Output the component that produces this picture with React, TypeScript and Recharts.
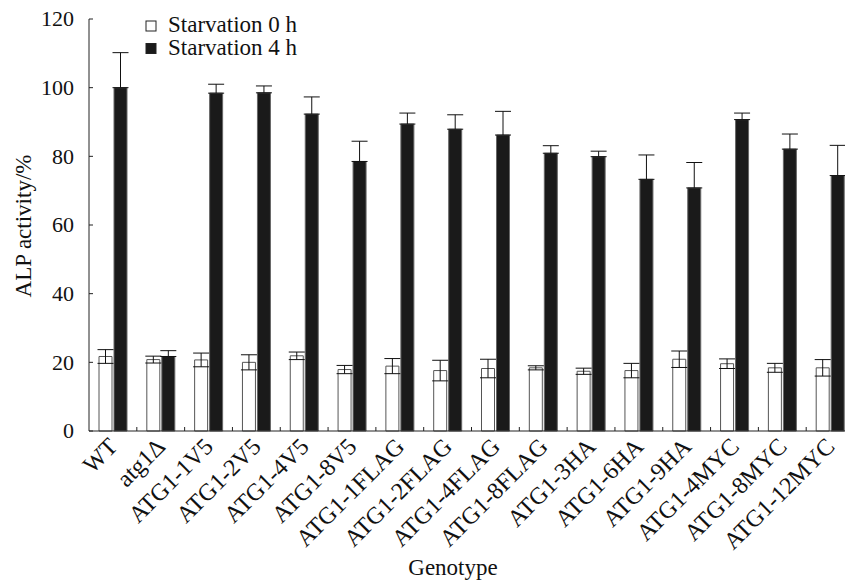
import React from 'react';
import { BarChart, Bar, XAxis, YAxis, ErrorBar } from 'recharts';

const genotypes = [
  'WT', 'atg1Δ', 'ATG1-1V5', 'ATG1-2V5', 'ATG1-4V5', 'ATG1-8V5',
  'ATG1-1FLAG', 'ATG1-2FLAG', 'ATG1-4FLAG', 'ATG1-8FLAG',
  'ATG1-3HA', 'ATG1-6HA', 'ATG1-9HA', 'ATG1-4MYC', 'ATG1-8MYC', 'ATG1-12MYC',
];
// Starvation 0 h
const starv0 = [21.7, 20.8, 20.7, 20.0, 21.9, 17.9, 18.9, 17.6, 18.2, 18.4, 17.4, 17.6, 20.9, 19.6, 18.4, 18.4];
const starv0Err = [2.0, 1.0, 2.0, 2.2, 1.1, 1.2, 2.2, 3.0, 2.7, 0.6, 0.9, 2.1, 2.4, 1.4, 1.3, 2.4];
// Starvation 4 h (only the upper whisker shows above the black bar)
const starv4 = [100.0, 21.7, 98.4, 98.5, 92.3, 78.5, 89.4, 87.9, 86.2, 80.9, 79.9, 73.3, 70.8, 90.7, 82.1, 74.4];
const starv4Err = [10.2, 1.7, 2.6, 2.0, 5.0, 5.9, 3.2, 4.2, 6.9, 2.2, 1.6, 7.1, 7.4, 1.9, 4.4, 8.8];
const yTicks = [0, 20, 40, 60, 80, 100, 120];

const data = genotypes.map((g, i) => ({
  name: g,
  s0: starv0[i],
  e0: starv0Err[i],
  s4: starv4[i],
  e4: [0, starv4Err[i]],
}));

const FONT = '"Liberation Serif", "Times New Roman", serif';
const AXIS = '#222';
const CHART_W = 880;
const MARGIN = { top: 19, right: 26, bottom: 29, left: 29 };
const PLOT_W = CHART_W - MARGIN.left - MARGIN.right - 60;
const CAT_W = PLOT_W / genotypes.length;

function XTick(props: any) {
  const { x, y, payload, index } = props;
  const tx = x + 6;
  const ty = y + 17;
  return (
    <g>
      {index < genotypes.length - 1 && (
        <line x1={x + CAT_W / 2} x2={x + CAT_W / 2} y1={y} y2={y - 4} stroke={AXIS} strokeWidth={1} />
      )}
      <text
        x={tx}
        y={ty}
        transform={`rotate(-45 ${tx} ${ty})`}
        textAnchor="end"
        fontFamily={FONT}
        fontSize={24}
        fill="#111"
      >
        {payload.value}
      </text>
    </g>
  );
}

function YTick(props: any) {
  const { x, y, payload } = props;
  return (
    <g>
      <line x1={x} x2={x + 4} y1={y} y2={y} stroke={AXIS} strokeWidth={1} />
      <text x={x - 15} y={y} dy="0.34em" textAnchor="end" fontFamily={FONT} fontSize={22} fill="#111">
        {payload.value}
      </text>
    </g>
  );
}

export default function App() {
  return (
    <div style={{ position: 'fixed', left: 0, top: 0, width: 845, height: 580, overflow: 'hidden', background: '#fff' }}>
      <BarChart width={CHART_W} height={580} data={data} margin={MARGIN} barSize={13} barGap={2}>
        <XAxis
          dataKey="name"
          interval={0}
          height={120}
          tickLine={false}
          tickSize={0}
          tickMargin={0}
          axisLine={{ stroke: AXIS, strokeWidth: 1 }}
          tick={<XTick />}
        />
        <YAxis
          domain={[0, 120]}
          ticks={yTicks}
          width={60}
          tickLine={false}
          tickSize={0}
          tickMargin={0}
          axisLine={{ stroke: AXIS, strokeWidth: 1 }}
          tick={<YTick />}
        />
        <Bar dataKey="s0" name="Starvation 0 h" fill="#fff" stroke="#555" strokeWidth={1} isAnimationActive={false}>
          <ErrorBar dataKey="e0" width={8} stroke="#111" strokeWidth={1} direction="y" isAnimationActive={false} />
        </Bar>
        <Bar dataKey="s4" name="Starvation 4 h" fill="#1a1a1a" stroke="#666" strokeWidth={1} isAnimationActive={false}>
          <ErrorBar dataKey="e4" width={8} stroke="#111" strokeWidth={1} direction="y" isAnimationActive={false} />
        </Bar>
      </BarChart>
      <svg width={845} height={580} style={{ position: 'absolute', left: 0, top: 0, pointerEvents: 'none' }}>
        <rect x={146} y={21} width={10} height={10} fill="#fff" stroke="#222" strokeWidth={1} />
        <text x={168} y={32} fontFamily={FONT} fontSize={23} fill="#111">Starvation 0 h</text>
        <rect x={146} y={43.5} width={10} height={10} fill="#1a1a1a" stroke="#222" strokeWidth={1} />
        <text x={168} y={55} fontFamily={FONT} fontSize={23} fill="#111">Starvation 4 h</text>
        <text x={31} y={226} transform="rotate(-90 31 226)" textAnchor="middle" fontFamily={FONT} fontSize={23} fill="#111">
          ALP activity/%
        </text>
        <text x={453} y={575} textAnchor="middle" fontFamily={FONT} fontSize={23} fill="#111">Genotype</text>
      </svg>
    </div>
  );
}
